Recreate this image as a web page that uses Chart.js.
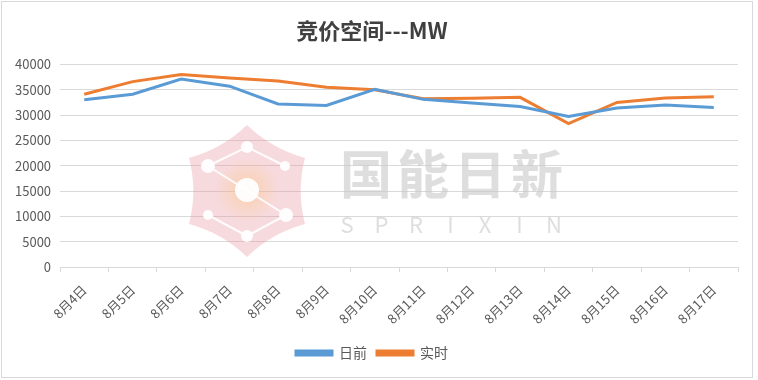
<!DOCTYPE html>
<html>
<head>
<meta charset="utf-8">
<script src="https://cdn.jsdelivr.net/npm/chart.js@4/dist/chart.umd.min.js"></script>
<style>
html,body{margin:0;padding:0;background:#fff;}
#wrap{position:absolute;left:1px;top:1px;width:750px;height:375px;border:1px solid #d9d9d9;background:#fff;}
canvas{display:block;}
</style>
</head>
<body>
<div id="wrap"><canvas id="c" width="750" height="375"></canvas></div>
<script>
const categories = ['8月4日','8月5日','8月6日','8月7日','8月8日','8月9日','8月10日','8月11日','8月12日','8月13日','8月14日','8月15日','8月16日','8月17日'];
const dayAhead = [33000,34100,37100,35700,32200,31900,35100,33100,32400,31700,29700,31400,32000,31500];
const realTime = [34100,36600,38000,37300,36700,35500,35000,33200,33300,33500,28300,32500,33350,33600];
const yTicks = [0,5000,10000,15000,20000,25000,30000,35000,40000];

const FONT = "'Noto Sans CJK SC','Noto Sans',sans-serif";

const watermark = {
  id:'watermark',
  beforeDatasetsDraw(chart){
    const ctx = chart.ctx;
    ctx.save();
    const cx = 245, cy = 188;
    const pts = [[245,123],[303,156],[303,222],[245,255],[187,222],[187,156]];
    ctx.beginPath();
    ctx.moveTo(pts[0][0],pts[0][1]);
    for(let i=0;i<6;i++){
      const a = pts[i], b = pts[(i+1)%6];
      const mx=(a[0]+b[0])/2, my=(a[1]+b[1])/2;
      const qx = mx + (cx-mx)*0.15, qy = my + (cy-my)*0.15;
      ctx.quadraticCurveTo(qx,qy,b[0],b[1]);
    }
    ctx.closePath();
    ctx.fillStyle = 'rgba(233,150,160,0.35)';
    ctx.fill();
    const g = ctx.createRadialGradient(cx,cy,0,cx,cy,32);
    g.addColorStop(0,'rgba(250,200,130,0.55)');
    g.addColorStop(1,'rgba(250,200,130,0)');
    ctx.fillStyle = g;
    ctx.beginPath(); ctx.arc(cx,cy,32,0,Math.PI*2); ctx.fill();
    ctx.strokeStyle = 'rgba(255,255,255,0.9)';
    ctx.lineWidth = 2;
    const nodes = [[206,164],[245,145],[283,164],[206,213],[245,234],[284,213]];
    ctx.beginPath();
    ctx.moveTo(206,164);ctx.lineTo(245,145);ctx.lineTo(283,164);
    ctx.moveTo(206,164);ctx.lineTo(284,213);
    ctx.moveTo(206,213);ctx.lineTo(245,234);ctx.lineTo(284,213);
    ctx.stroke();
    ctx.fillStyle = 'rgba(255,255,255,0.95)';
    const rs=[7,6,5,5,6,7];
    nodes.forEach((n,i)=>{ctx.beginPath();ctx.arc(n[0],n[1],rs[i],0,Math.PI*2);ctx.fill();});
    ctx.beginPath();ctx.arc(cx,cy,12,0,Math.PI*2);ctx.fill();
    ctx.fillStyle = 'rgba(200,200,200,0.6)';
    ctx.font = "bold 52px " + FONT;
    ctx.textBaseline = 'middle';
    ctx.textAlign = 'center';
    const chars = ['国','能','日','新'];
    chars.forEach((ch,i)=>ctx.fillText(ch, 364 + i*57, 172));
    ctx.font = "22px " + FONT;
    const letters = ['S','P','R','I','X','I','N'];
    letters.forEach((ch,i)=>ctx.fillText(ch, 345 + i*34.5, 223));
    ctx.restore();
  }
};

new Chart(document.getElementById('c'), {
  type:'line',
  data:{
    labels:categories,
    datasets:[
      {label:'日前',data:dayAhead,borderColor:'#5b9bd5',backgroundColor:'#5b9bd5',borderWidth:3,pointRadius:0,tension:0},
      {label:'实时',data:realTime,borderColor:'#ed7d31',backgroundColor:'#ed7d31',borderWidth:3,pointRadius:0,tension:0}
    ]
  },
  options:{
    responsive:false,
    animation:false,
    layout:{padding:{left:4,right:14,top:0,bottom:7}},
    plugins:{
      title:{display:true,text:'竞价空间---MW',color:'#404040',font:{family:FONT,size:22,weight:'bold'},padding:{top:15,bottom:21}},
      legend:{position:'bottom',labels:{boxWidth:36,boxHeight:4,color:'#595959',font:{family:FONT,size:14},padding:10}},
      tooltip:{enabled:false}
    },
    scales:{
      x:{
        offset:true,
        afterFit(scale){scale.height = 69;},
        grid:{display:true,drawOnChartArea:false,drawTicks:true,tickLength:5,offset:true,color:'#d9d9d9'},
        border:{display:true,color:'#d9d9d9'},
        ticks:{color:'#595959',font:{family:FONT,size:13},minRotation:45,maxRotation:45,padding:10}
      },
      y:{
        min:0,max:40000,
        afterBuildTicks(axis){axis.ticks = yTicks.map(v=>({value:v}));},
        grid:{color:'#d9d9d9',drawTicks:false},
        border:{display:false},
        ticks:{color:'#595959',font:{family:FONT,size:13},padding:9,callback:(v)=>String(v)}
      }
    }
  },
  plugins:[watermark]
});
</script>
</body>
</html>
